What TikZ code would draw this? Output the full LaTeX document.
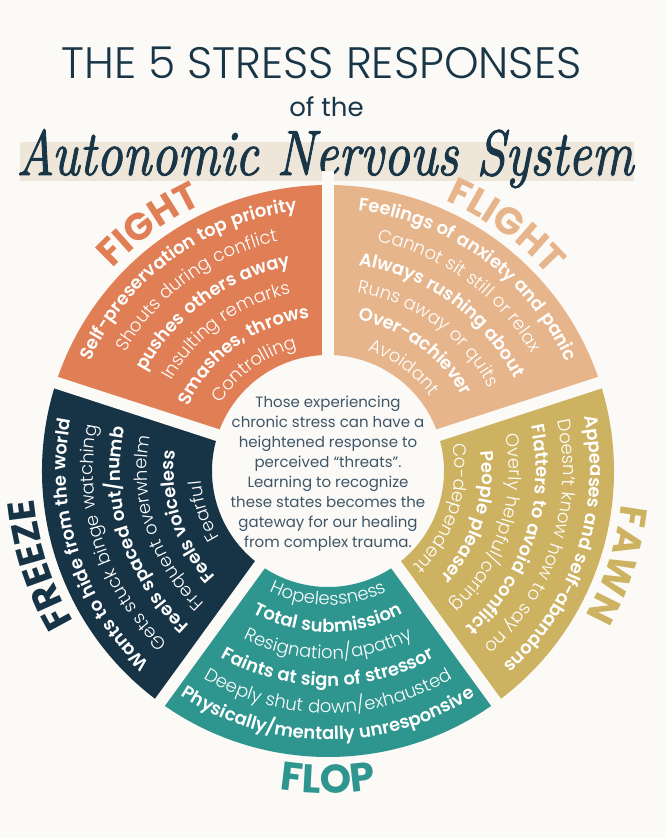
\documentclass[tikz,border=0pt]{standalone}
\usepackage{fontspec}
\newfontfamily\titlefont{Poppins Light}
\newfontfamily\lightfont{Poppins Light}[LetterSpace=3]
\newfontfamily\regfont{Poppins}
\newfontfamily\semifont{Poppins SemiBold}[LetterSpace=3]
\newfontfamily\heavyfont{Poppins Bold}[LetterSpace=8]
\newfontfamily\serifit{lmroman10-italic.otf}[FakeBold=1.6]
\usetikzlibrary{decorations.text}
\definecolor{paper}{HTML}{FCFAF6}
\definecolor{navy}{HTML}{183648}
\definecolor{band}{HTML}{EEE6D8}
\definecolor{slate}{HTML}{3E5668}
\definecolor{fightcol}{HTML}{E07F56}
\definecolor{flightcol}{HTML}{E7B58B}
\definecolor{fawncol}{HTML}{CDB262}
\definecolor{flopcol}{HTML}{2E958F}
\definecolor{freezecol}{HTML}{173447}
\tikzset{
  gapline/.style={draw=paper, line width=12pt},
}
\newcommand{\lineL}{\color{white}\lightfont\fontsize{18}{18}\selectfont}
\newcommand{\lineB}{\color{white}\semifont\fontsize{18}{18}\selectfont}
\newcommand{\labelL}[2][38]{\color{#2}\heavyfont\fontsize{#1}{#1}\selectfont}
% text along an arc, read clockwise (letters point outward)
\newcommand{\cwtext}[4]{%
  \path[decorate,decoration={text along path,text align=center,
    text={|#3|#4}}]
    ({#1+35}:#2) arc[start angle={#1+35},end angle={#1-35},radius=#2];}
% text along an arc, read counter-clockwise (letters point inward)
\newcommand{\ccwtext}[4]{%
  \path[decorate,decoration={text along path,text align=center,
    text={|#3|#4}}]
    ({#1-35}:#2) arc[start angle={#1-35},end angle={#1+35},radius=#2];}

\begin{document}
\begin{tikzpicture}[x=1pt,y=1pt]

  \fill[paper] (-328,-367) rectangle (338,471);
  \useasboundingbox (-328,-367) rectangle (338,471);

  % title
  \fill[band] (-308,290) rectangle (306,329);
  \node[anchor=base,text=navy,font=\titlefont\fontsize{44}{44}\selectfont]
    (title) at (-6.5,392) {THE 5 STRESS RESPONSES};
  \node[anchor=base,text=navy,font=\regfont\fontsize{26}{26}\selectfont]
    (subtitle) at (-1.5,354) {of the};
  \node[anchor=base,text=navy,font=\serifit\fontsize{64}{64}\selectfont,
    xscale=0.8,transform shape]
    (system) at (-3,296) {Autonomic Nervous System};

  % wheel
  \fill[fightcol] (90:116) arc[start angle=90,end angle=162,radius=116]
    -- (162:286) arc[start angle=162,end angle=90,radius=286] -- cycle;
  \fill[flightcol] (18:116) arc[start angle=18,end angle=90,radius=116]
    -- (90:286) arc[start angle=90,end angle=18,radius=286] -- cycle;
  \fill[fawncol] (-54:116) arc[start angle=-54,end angle=18,radius=116]
    -- (18:286) arc[start angle=18,end angle=-54,radius=286] -- cycle;
  \fill[flopcol] (-126:116) arc[start angle=-126,end angle=-54,radius=116]
    -- (-54:286) arc[start angle=-54,end angle=-126,radius=286] -- cycle;
  \fill[freezecol] (162:116) arc[start angle=162,end angle=234,radius=116]
    -- (234:286) arc[start angle=234,end angle=162,radius=286] -- cycle;
  \coordinate (hub) at (0,0);
  \draw[gapline] (hub) -- (90:300);
  \draw[gapline] (hub) -- (18:300);
  \draw[gapline] (hub) -- (-54:300);
  \draw[gapline] (hub) -- (-126:300);
  \draw[gapline] (hub) -- (162:300);

  % fight
  \cwtext{126}{262}{\lineB}{Self-preservation top priority}
  \cwtext{126}{235}{\lineL}{Shouts during conflict}
  \cwtext{126}{208}{\lineB}{pushes others away}
  \cwtext{126}{181}{\lineL}{Insulting remarks}
  \cwtext{126}{154}{\lineB}{Smashes, throws}
  \cwtext{126}{127}{\lineL}{Controlling}

  % flight
  \cwtext{54}{262}{\lineB}{Feelings of anxiety and panic}
  \cwtext{54}{235}{\lineL}{Cannot sit still or relax}
  \cwtext{54}{208}{\lineB}{Always rushing about}
  \cwtext{54}{181}{\lineL}{Runs away or quits}
  \cwtext{54}{154}{\lineB}{Over-achiever}
  \cwtext{54}{127}{\lineL}{Avoidant}

  % fawn
  \cwtext{-18}{262}{\lineB}{Appeases and self-abandons}
  \cwtext{-18}{235}{\lineL}{Doesn’t know how to say no}
  \cwtext{-18}{208}{\lineB}{Flatters to avoid conflict}
  \cwtext{-18}{181}{\lineL}{Overly helpful/caring}
  \cwtext{-18}{154}{\lineB}{People pleaser}
  \cwtext{-18}{127}{\lineL}{Co-dependent}

  % flop
  \ccwtext{-90}{134}{\lineL}{Hopelessness}
  \ccwtext{-90}{161}{\lineB}{Total submission}
  \ccwtext{-90}{188}{\lineL}{Resignation/apathy}
  \ccwtext{-90}{215}{\lineB}{Faints at sign of stressor}
  \ccwtext{-90}{242}{\lineL}{Deeply shut down/exhausted}
  \ccwtext{-90}{269}{\lineB}{Physically/mentally unresponsive}

  % freeze
  \cwtext{198}{262}{\lineB}{Wants to hide from the world}
  \cwtext{198}{235}{\lineL}{Gets stuck binge watching}
  \cwtext{198}{208}{\lineB}{Feels spaced out/numb}
  \cwtext{198}{181}{\lineL}{Frequent overwhelm}
  \cwtext{198}{154}{\lineB}{Feels voiceless}
  \cwtext{198}{127}{\lineL}{Fearful}

  % labels
  \cwtext{126}{295}{\labelL{fightcol}}{FIGHT}
  \cwtext{54}{295}{\labelL{flightcol}}{FLIGHT}
  \cwtext{-18}{295}{\labelL{fawncol}}{FAWN}
  \ccwtext{-90}{322}{\labelL[40]{flopcol}}{FLOP}
  \cwtext{198}{295}{\labelL{freezecol}}{FREEZE}

  % centre
  \node[align=center,text=slate,font=\regfont\fontsize{15}{20}\selectfont]
    (centre) at (0,-3) {Those experiencing\\chronic stress can have a\\heightened response to\\perceived “threats”.\\Learning to recognize\\these states becomes the\\gateway for our healing\\from complex trauma.};

\end{tikzpicture}
\end{document}
